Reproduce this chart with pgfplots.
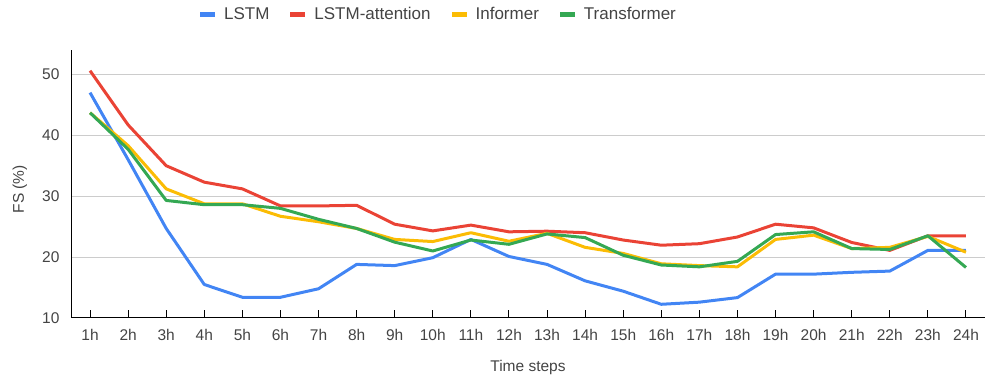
\documentclass[border=0pt]{standalone}
\usepackage{pgfplots}
\pgfplotsset{compat=1.18}
\usepackage{fontspec}
\setmainfont{Liberation Sans}

\definecolor{gblue}{HTML}{4285F4}
\definecolor{gred}{HTML}{EA4335}
\definecolor{gyellow}{HTML}{FBBC04}
\definecolor{ggreen}{HTML}{34A853}
\definecolor{txt}{HTML}{444444}
\definecolor{gridc}{HTML}{CCCCCC}

\pgfplotsset{
  swatch/.style={
    legend image code/.code={
      \fill[##1,draw=none] (0pt,-2.5pt) rectangle (15pt,2.5pt);
    }
  }
}

\begin{document}
\begin{tikzpicture}[x=1pt,y=1pt]
\useasboundingbox (0,0) rectangle (985,377);
\begin{axis}[
  at={(71pt,59pt)}, anchor=south west,
  scale only axis,
  width=914pt, height=268pt,
  xmin=0.5, xmax=24.5,
  ymin=10, ymax=54,
  xtick={1,...,24},
  xticklabels={1h,2h,3h,4h,5h,6h,7h,8h,9h,10h,11h,12h,13h,14h,15h,16h,17h,18h,19h,20h,21h,22h,23h,24h},
  ytick={10,20,30,40,50},
  axis x line*=bottom,
  axis y line*=left,
  axis line style={black, line width=1pt},
  x tick style={black, line width=1pt},
  major tick length=8pt,
  xtick align=inside,
  ytick style={draw=none},
  ymajorgrids,
  major grid style={gridc, line width=1pt},
  tick label style={font=\fontsize{15.5}{18}\selectfont, text=txt},
  /pgf/number format/assume math mode=true,
  yticklabel style={xshift=-8pt},
  xticklabel style={yshift=-8pt},
  xlabel={Time steps},
  ylabel={FS (\%)},
  label style={font=\fontsize{15.5}{18}\selectfont, text=txt},
  xlabel style={at={(axis description cs:0.5,-0.183)}, anchor=center},
  ylabel style={at={(axis description cs:-0.056,0.48)}, anchor=center},
  legend columns=4,
  legend style={
    draw=none, fill=none,
    at={(axis description cs:0.4026,1.134)}, anchor=center,
    font=\fontsize{17}{20}\selectfont, text=txt,
    /tikz/every odd column/.append style={column sep=7pt},
    /tikz/every even column/.append style={column sep=19pt},
    inner sep=0pt,
  },
  legend cell align=left,
  every axis plot/.append style={line width=3pt, line join=round},
]
\addplot[gblue, swatch] coordinates {
(1,47.0) (2,36.0) (3,24.7) (4,15.5) (5,13.4) (6,13.4) (7,14.8) (8,18.8)
(9,18.6) (10,19.9) (11,22.9) (12,20.1) (13,18.8) (14,16.1) (15,14.4) (16,12.25)
(17,12.6) (18,13.35) (19,17.2) (20,17.2) (21,17.5) (22,17.7) (23,21.1) (24,21.1)
};
\addlegendentry{LSTM}
\addplot[gred, swatch] coordinates {
(1,50.6) (2,41.7) (3,35.0) (4,32.3) (5,31.2) (6,28.4) (7,28.4) (8,28.5)
(9,25.4) (10,24.3) (11,25.25) (12,24.15) (13,24.25) (14,24.0) (15,22.8) (16,21.95)
(17,22.2) (18,23.3) (19,25.4) (20,24.8) (21,22.4) (22,21.1) (23,23.5) (24,23.5)
};
\addlegendentry{LSTM-attention}
\addplot[gyellow, swatch] coordinates {
(1,43.7) (2,38.3) (3,31.2) (4,28.75) (5,28.75) (6,26.7) (7,25.8) (8,24.7)
(9,22.9) (10,22.55) (11,24.0) (12,22.6) (13,23.9) (14,21.6) (15,20.6) (16,18.9)
(17,18.6) (18,18.4) (19,22.9) (20,23.6) (21,21.4) (22,21.6) (23,23.4) (24,20.8)
};
\addlegendentry{Informer}
\addplot[ggreen, swatch] coordinates {
(1,43.7) (2,37.7) (3,29.3) (4,28.6) (5,28.6) (6,28.0) (7,26.2) (8,24.7)
(9,22.45) (10,21.0) (11,22.8) (12,22.1) (13,23.8) (14,23.2) (15,20.3) (16,18.7)
(17,18.4) (18,19.3) (19,23.7) (20,24.15) (21,21.4) (22,21.25) (23,23.5) (24,18.3)
};
\addlegendentry{Transformer}
\end{axis}
\end{tikzpicture}
\end{document}
